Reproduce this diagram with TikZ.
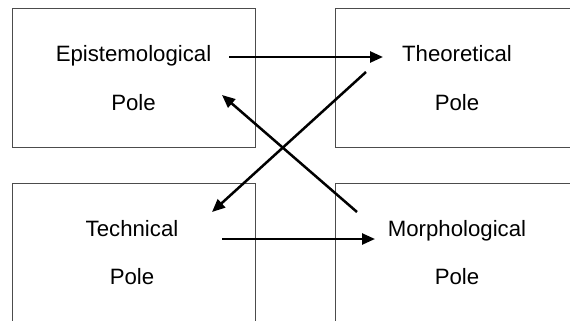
\documentclass[tikz,border=0pt]{standalone}
\usepackage{fontspec}
\setmainfont{Liberation Sans}
\usetikzlibrary{arrows.meta}
\begin{document}
\begin{tikzpicture}[x=1pt,y=-1pt,
  poletext/.style={anchor=base,inner sep=0pt,font=\fontsize{22.2}{26}\selectfont},
  polebox/.style={draw=black!70,line width=0.9pt},
  link/.style={line width=2.5pt,-{Triangle[length=13pt,width=11pt]}}]
\clip (0,0) rectangle (570,321);
\fill[white] (0,0) rectangle (570,321);
% boxes
\draw[polebox] (12,8) rectangle (255,147);
\draw[polebox] (335,8) rectangle (590,147);
\draw[polebox] (12,183) rectangle (255,340);
\draw[polebox] (335,183) rectangle (590,340);
% texts
\node[poletext] (epi) at (133.5,61.7) {Epistemological};
\node[poletext] (epip) at (133.5,110) {Pole};
\node[poletext] (theo) at (457,61.7) {Theoretical};
\node[poletext] (theop) at (457,110) {Pole};
\node[poletext] (tech) at (132,236) {Technical};
\node[poletext] (techp) at (132,284) {Pole};
\node[poletext] (morph) at (457,236) {Morphological};
\node[poletext] (morphp) at (457,284) {Pole};
% arrow end points
\coordinate (a1s) at (229,57);
\coordinate (a1e) at (383,57);
\coordinate (a2s) at (366,72);
\coordinate (a2e) at (212,212);
\coordinate (a3s) at (357,212);
\coordinate (a3e) at (222,95);
\coordinate (a4s) at (222,239);
\coordinate (a4e) at (375,239);
\draw[link] (a1s) -- (a1e);
\draw[link] (a2s) -- (a2e);
\draw[link] (a3s) -- (a3e);
\draw[link] (a4s) -- (a4e);
\end{tikzpicture}
\end{document}
